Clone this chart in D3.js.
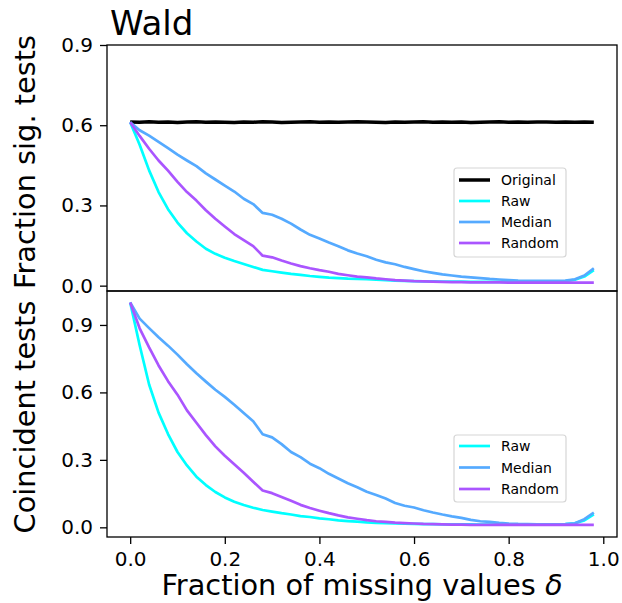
<!DOCTYPE html>
<html>
<head>
<meta charset="utf-8">
<script src="https://cdn.jsdelivr.net/npm/d3@7/dist/d3.min.js"></script>
<style>
	body { margin: 0; background: #fff; }
	svg { font-family: "DejaVu Sans", sans-serif; }
</style>
</head>
<body>
<div id="chart01"></div>
<script>
// fraction of missing values (x)
var fractions = [0.0, 0.02, 0.04, 0.06, 0.08, 0.1, 0.12, 0.14, 0.16, 0.18,
	0.2, 0.22, 0.24, 0.26, 0.28, 0.3, 0.32, 0.34, 0.36, 0.38,
	0.4, 0.42, 0.44, 0.46, 0.48, 0.5, 0.52, 0.54, 0.56, 0.58,
	0.6, 0.62, 0.64, 0.66, 0.68, 0.7, 0.72, 0.74, 0.76, 0.78,
	0.8, 0.82, 0.84, 0.86, 0.88, 0.9, 0.92, 0.94, 0.96, 0.98];

// top panel: fraction of significant tests
var sigOriginal = [0.612, 0.611, 0.613, 0.611, 0.612, 0.61, 0.612, 0.613, 0.611, 0.612,
	0.611, 0.61, 0.612, 0.611, 0.613, 0.612, 0.61, 0.611, 0.612, 0.613,
	0.611, 0.612, 0.611, 0.612, 0.613, 0.612, 0.611, 0.61, 0.612, 0.611,
	0.612, 0.613, 0.611, 0.612, 0.611, 0.612, 0.61, 0.611, 0.612, 0.613,
	0.611, 0.612, 0.611, 0.612, 0.612, 0.611, 0.612, 0.611, 0.612, 0.611];
var sigRaw = [0.611, 0.527, 0.431, 0.35, 0.286, 0.236, 0.196, 0.165, 0.138, 0.119,
	0.104, 0.092, 0.081, 0.07, 0.059, 0.054, 0.049, 0.044, 0.04, 0.036,
	0.033, 0.03, 0.028, 0.026, 0.025, 0.024, 0.022, 0.021, 0.019, 0.018,
	0.017, 0.016, 0.016, 0.015, 0.015, 0.015, 0.014, 0.014, 0.014, 0.014,
	0.014, 0.014, 0.014, 0.014, 0.015, 0.015, 0.017, 0.022, 0.034, 0.058];
var sigMedian = [0.611, 0.581, 0.561, 0.538, 0.514, 0.49, 0.468, 0.447, 0.42, 0.397,
	0.374, 0.352, 0.325, 0.305, 0.272, 0.265, 0.25, 0.232, 0.21, 0.19,
	0.176, 0.161, 0.147, 0.132, 0.12, 0.11, 0.097, 0.087, 0.08, 0.07,
	0.062, 0.054, 0.048, 0.042, 0.038, 0.034, 0.031, 0.028, 0.025, 0.023,
	0.021, 0.019, 0.018, 0.018, 0.018, 0.018, 0.019, 0.024, 0.038, 0.065];
var sigRandom = [0.611, 0.56, 0.512, 0.468, 0.43, 0.388, 0.35, 0.318, 0.282, 0.25,
	0.221, 0.193, 0.17, 0.148, 0.112, 0.106, 0.094, 0.083, 0.073, 0.065,
	0.058, 0.052, 0.044, 0.039, 0.034, 0.031, 0.027, 0.024, 0.021, 0.019,
	0.017, 0.016, 0.015, 0.014, 0.013, 0.013, 0.012, 0.012, 0.012, 0.012,
	0.011, 0.011, 0.011, 0.011, 0.011, 0.011, 0.011, 0.011, 0.011, 0.011];

// bottom panel: coincident tests
var coinRaw = [1.0, 0.81, 0.635, 0.51, 0.415, 0.335, 0.275, 0.225, 0.188, 0.157,
	0.133, 0.114, 0.099, 0.087, 0.077, 0.07, 0.063, 0.057, 0.05, 0.046,
	0.04, 0.036, 0.031, 0.028, 0.025, 0.022, 0.02, 0.019, 0.018, 0.016,
	0.015, 0.014, 0.014, 0.013, 0.013, 0.013, 0.013, 0.012, 0.012, 0.012,
	0.012, 0.012, 0.012, 0.012, 0.012, 0.013, 0.014, 0.018, 0.031, 0.058];
var coinMedian = [1.0, 0.928, 0.886, 0.845, 0.808, 0.768, 0.725, 0.685, 0.648, 0.612,
	0.58, 0.545, 0.508, 0.472, 0.414, 0.4, 0.37, 0.335, 0.312, 0.283,
	0.263, 0.238, 0.217, 0.196, 0.178, 0.158, 0.144, 0.128, 0.108, 0.096,
	0.088, 0.076, 0.066, 0.057, 0.049, 0.042, 0.033, 0.027, 0.024, 0.02,
	0.017, 0.015, 0.014, 0.013, 0.013, 0.013, 0.014, 0.018, 0.036, 0.065];
var coinRandom = [1.0, 0.885, 0.8, 0.72, 0.65, 0.59, 0.52, 0.465, 0.41, 0.36,
	0.318, 0.28, 0.243, 0.203, 0.164, 0.152, 0.135, 0.118, 0.1, 0.086,
	0.074, 0.063, 0.053, 0.044, 0.038, 0.032, 0.027, 0.024, 0.021, 0.019,
	0.017, 0.015, 0.014, 0.013, 0.012, 0.012, 0.011, 0.011, 0.011, 0.011,
	0.011, 0.011, 0.011, 0.011, 0.011, 0.011, 0.011, 0.011, 0.011, 0.011];

var yTicks = [0.0, 0.3, 0.6, 0.9];
var xTicks = [0.0, 0.2, 0.4, 0.6, 0.8, 1.0];
var topNames = ["Original", "Raw", "Median", "Random"];
var bottomNames = ["Raw", "Median", "Random"];

var width = 622;
var height = 603;
var margin = { left: 107, right: 5, top: 45, bottom: 66 };
var midY = 291;

var colors = d3.scaleOrdinal().domain(topNames).range([
	"#000000", // original
	"#00ffff", // raw
	"#55aaff", // median
	"#aa55ff", // random
]);

var svg = d3.select("#chart01").append("svg").attr("width", width).attr("height", height);

// scales
var x = d3
	.scaleLinear()
	.domain([-0.049, 1.029])
	.range([margin.left, width - margin.right]);
var yTop = d3.scaleLinear().domain([-0.02, 0.9]).range([midY, margin.top]);
var yBot = d3
	.scaleLinear()
	.domain([-0.043, 1.051])
	.range([height - margin.bottom, midY]);

function drawPanel(y, series, names, label, labelY) {
	var g = svg.append("g");
	// lines
	series.forEach((values, i) => {
		var line = d3
			.line()
			.x((d, j) => x(fractions[j]))
			.y((d) => y(d));
		g.append("path")
			.datum(values)
			.attr("d", line)
			.attr("fill", "none")
			.attr("stroke", colors(names[i]))
			.attr("stroke-width", names[i] == "Original" ? 3.5 : 2.7)
			.attr("stroke-linejoin", "round");
	});
	// y axis
	var ax = g
		.append("g")
		.attr("transform", `translate(${margin.left},0)`)
		.call(
			d3.axisLeft(y).tickValues(yTicks).tickFormat(d3.format(".1f")).tickSize(7).tickPadding(7).tickSizeOuter(0)
		);
	ax.select(".domain").remove();
	ax.selectAll("text").attr("font-size", "20px").attr("font-family", "DejaVu Sans").attr("fill", "#000");
	ax.selectAll("line").attr("stroke", "#000").attr("stroke-width", 1.3);
	// frame
	g.append("rect")
		.attr("x", margin.left)
		.attr("y", y.range()[1])
		.attr("width", width - margin.right - margin.left)
		.attr("height", y.range()[0] - y.range()[1])
		.attr("fill", "none")
		.attr("stroke", "#000")
		.attr("stroke-width", 1.3);
	// y label
	g.append("text")
		.attr("transform", `translate(35,${labelY}) rotate(-90)`)
		.attr("text-anchor", "middle")
		.attr("font-size", "28.8px")
		.text(label);
}

function drawLegend(names, x0, y0, w, h, rowY) {
	var legend = svg.append("g").attr("class", "legend");
	legend
		.append("rect")
		.attr("x", x0)
		.attr("y", y0)
		.attr("width", w)
		.attr("height", h)
		.attr("rx", 3)
		.attr("fill", "#fff")
		.attr("fill-opacity", 0.8)
		.attr("stroke", "#d6d6d6")
		.attr("stroke-width", 1.2);
	names.forEach((name, i) => {
		var row = legend.append("g").attr("transform", `translate(0,${rowY[i]})`);
		row.append("line")
			.attr("x1", x0 + 5)
			.attr("x2", x0 + 36)
			.attr("stroke", colors(name))
			.attr("stroke-width", name == "Original" ? 3.5 : 2.7);
		row.append("text")
			.attr("x", x0 + 47)
			.attr("dy", "0.36em")
			.attr("font-size", "14px")
			.text(name);
	});
}

drawPanel(yTop, [sigOriginal, sigRaw, sigMedian, sigRandom], topNames, "Fraction sig. tests", 162);
drawPanel(yBot, [coinRaw, coinMedian, coinRandom], bottomNames, "Coincident tests", 417);

// x axis at the bottom
var xAxis = svg
	.append("g")
	.attr("transform", `translate(0,${height - margin.bottom})`)
	.call(d3.axisBottom(x).tickValues(xTicks).tickFormat(d3.format(".1f")).tickSize(7).tickPadding(7.5).tickSizeOuter(0));
xAxis.select(".domain").remove();
xAxis.selectAll("text").attr("font-size", "20px").attr("font-family", "DejaVu Sans").attr("fill", "#000");
xAxis.selectAll("line").attr("stroke", "#000").attr("stroke-width", 1.3);

var xLabel = svg
	.append("text")
	.attr("x", (margin.left + width - margin.right) / 2)
	.attr("y", 595)
	.attr("text-anchor", "middle")
	.attr("font-size", "28.8px");
xLabel.append("tspan").text("Fraction of missing values ");
xLabel.append("tspan").attr("font-style", "italic").text("δ");

// title
svg.append("text").attr("x", 110).attr("y", 35).attr("font-size", "34px").text("Wald");

drawLegend(topNames, 454, 168, 112, 89, [180, 201, 222, 243]);
drawLegend(bottomNames, 454, 435, 112, 67, [446, 467.5, 489]);
</script>
</body>
</html>
